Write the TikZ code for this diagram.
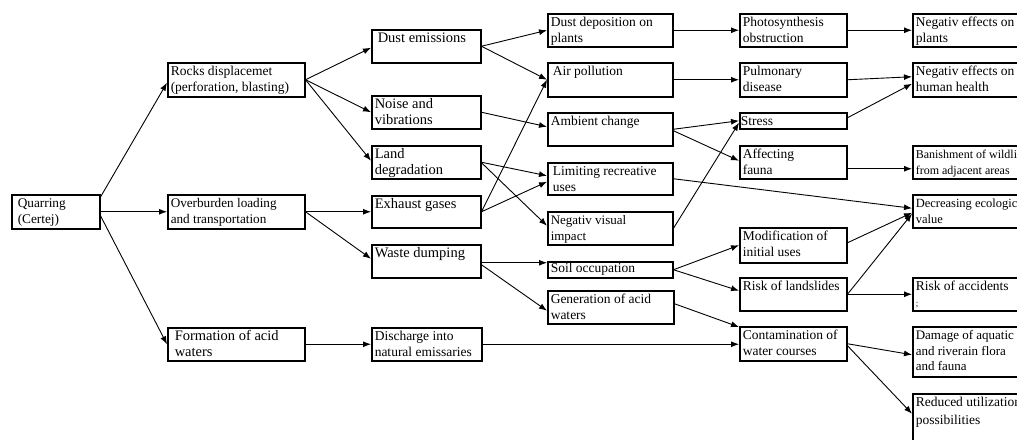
\documentclass[tikz,border=0pt]{standalone}
\usepackage{fontspec}
\setmainfont{Liberation Serif}
\usetikzlibrary{arrows.meta}
\tikzset{
  box/.style={draw, rectangle, line width=1.5pt, inner xsep=3pt, inner ysep=2pt, anchor=north west},
  arr/.style={line width=0.9pt, -{Latex[length=8pt,width=6pt]}}
}
\newcommand\qbox[7][13.5]{%
  \node[box, font=\fontsize{#1}{15.5}\selectfont] (#2) at (#3,#4)
    {\parbox[t][\dimexpr#6pt-4pt\relax][t]{\dimexpr#5pt-6pt\relax}{\raggedright\strut #7}};}
\begin{document}
\begin{tikzpicture}[x=1pt,y=-1pt]
\useasboundingbox (0,0) rectangle (1017,439);
\clip (0,0) rectangle (1017,439);
% column 0/1
\qbox[13.3]{quar}{11}{194}{88}{34}{\hspace{3pt}Quarring\\\hspace{3pt}(Certej)}
\qbox{rocks}{167}{62}{137}{34}{Rocks displacemet\\(perforation, blasting)}
\qbox[13.2]{over}{167}{194}{137}{34}{Overburden loading\\and transportation}
\qbox[14.5]{form}{167}{327}{137}{33}{\hspace{4pt}Formation of acid\\\hspace{4pt}waters}
% column 2
\qbox[14.5]{dust}{371}{29}{109}{33}{\hspace{3pt}Dust emissions}
\qbox[14.5]{noise}{371}{95}{109}{33}{Noise and\\vibrations}
\qbox[14.5]{land}{371}{145}{109}{33}{Land\\degradation}
\qbox[14.5]{exh}{371}{195}{109}{32}{Exhaust gases}
\qbox[14.5]{waste}{371}{244}{109}{33}{Waste dumping}
\qbox{disch}{371}{327}{110}{33}{Discharge into\\natural emissaries}
% column 3
\qbox{dep}{547}{13}{125}{33}{Dust deposition on\\plants}
\qbox{air}{547}{62}{125}{34}{\hspace{2pt}Air pollution}
\qbox{amb}{547}{112}{125}{33}{Ambient change}
\qbox{lim}{547}{162}{125}{32}{\hspace{2pt}Limiting recreative\\\hspace{2pt}uses}
\qbox[13]{vis}{547}{211}{125}{33}{Negativ visual\\impact}
\node[box, font=\fontsize{13.5}{15.5}\selectfont, inner ysep=0pt] (soil) at (547,261)
  {\parbox[t][16pt][c]{119pt}{\raggedright Soil occupation}};
\qbox{gen}{547}{290}{126}{33}{Generation of acid\\waters}
% column 4
\qbox{photo}{739}{13}{107}{33}{Photosynthesis\\obstruction}
\qbox{pulm}{739}{62}{107}{34}{Pulmonary\\disease}
\node[box, font=\fontsize{13.5}{15.5}\selectfont, inner ysep=0pt, inner xsep=1pt] (stress) at (739,112)
  {\parbox[t][16pt][c]{105pt}{\raggedright Stress}};
\qbox{fauna}{739}{145}{107}{33}{Affecting\\fauna}
\qbox{modif}{739}{227}{107}{35}{Modification of\\initial uses}
\qbox{lands}{739}{277}{107}{33}{Risk of landslides}
\qbox{cont}{739}{326}{107}{34}{Contamination of\\water courses}
% column 5 (clipped at the right edge, as in the reference)
\qbox{neg1}{912}{13}{130}{33}{Negativ effects on\\plants}
\qbox{neg2}{912}{62}{130}{34}{Negativ effects on\\human health}
\qbox[12]{ban}{912}{145}{130}{33}{Banishment of wildlife\\from adjacent areas}
\qbox[12.5]{dec}{912}{194}{130}{33}{Decreasing ecological\\value}
\qbox{acc}{912}{277}{130}{33}{Risk of accidents\\{\fontsize{9}{10}\selectfont ;}}
\qbox[13]{dam}{912}{326}{130}{50}{Damage of aquatic\\and riverain flora\\and fauna}
\qbox{red}{912}{393}{130}{60}{\vspace{2pt}Reduced utilization\\possibilities}
% connectors
\draw[arr] ([yshift=-3pt]quar.north east) -- ([yshift=-3pt]rocks.west);
\draw[arr] (quar.east) -- (over.west);
\draw[arr] ([yshift=-4pt]quar.east) -- (form.west);
\draw[arr] (rocks.east) -- ([yshift=-1.5pt]dust.west);
\draw[arr] (rocks.east) -- (noise.west);
\draw[arr] (rocks.east) -- ([yshift=1.5pt]land.west);
\draw[arr] (over.east) -- (exh.west);
\draw[arr] (over.east) -- ([yshift=2.5pt]waste.west);
\draw[arr] (form.east) -- (disch.west);
\draw[arr] (dust.east) -- (dep.west);
\draw[arr] (dust.east) -- (air.west);
\draw[arr] (noise.east) -- ([yshift=2.5pt]amb.west);
\draw[arr] (land.east) -- ([yshift=3pt]lim.west);
\draw[arr] ([yshift=-0.5pt]land.east) -- ([yshift=2.5pt]vis.west);
\draw[arr] (exh.east) -- (air.west);
\draw[arr] (exh.east) -- ([yshift=-3pt]lim.west);
\draw[arr] ([yshift=-1.5pt]waste.east) -- ([yshift=7pt]soil.west);
\draw[arr] ([yshift=-3.5pt]waste.east) -- ([yshift=-3.5pt]gen.west);
\draw[arr] (disch.east) -- ([yshift=-0.5pt]cont.west);
\draw[arr] (dep.east) -- (photo.west);
\draw[arr] (air.east) -- (pulm.west);
\draw[arr] (amb.east) -- (stress.west);
\draw[arr] ([yshift=-1.5pt]amb.east) -- ([yshift=1.5pt]fauna.west);
\draw[arr] (vis.east) -- ([yshift=-2pt]stress.west);
\draw[arr] (lim.east) -- ([yshift=3pt]dec.west);
\draw[arr] (soil.east) -- (modif.west);
\draw[arr] (soil.east) -- ([yshift=3.5pt]lands.west);
\draw[arr] ([yshift=3.5pt]gen.east) -- ([yshift=-1pt]cont.north west);
\draw[arr] (photo.east) -- (neg1.west);
\draw[arr] (pulm.east) -- ([yshift=3pt]neg2.west);
\draw[arr] ([yshift=3pt]stress.east) -- ([yshift=-4pt]neg2.west);
\draw[arr] ([yshift=-6.5pt]fauna.east) -- ([yshift=-6.5pt]ban.west);
\draw[arr] ([yshift=2.5pt]modif.east) -- ([yshift=-1.5pt]dec.west);
\draw[arr] (lands.east) -- ([yshift=-2.5pt]dec.west);
\draw[arr] (lands.east) -- (acc.west);
\draw[arr] (cont.east) -- ([yshift=-3pt]dam.west);
\draw[arr] ([yshift=-2pt]cont.east) -- ([yshift=10pt]red.west);
\end{tikzpicture}
\end{document}
